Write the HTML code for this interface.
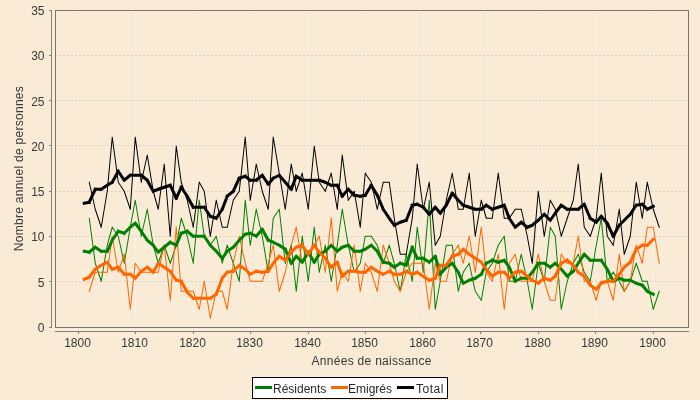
<!DOCTYPE html>
<html><head><meta charset="utf-8"><style>html,body{margin:0;padding:0;background:#faebd7;}svg{display:block;will-change:transform}</style></head>
<body><svg width="700" height="400" viewBox="0 0 700 400">
<style>.t{font-family:"Liberation Sans",sans-serif;font-size:12px;fill:#383838} .l{font-family:"Liberation Sans",sans-serif;font-size:12px;fill:#2a2a2a}</style>
<rect width="700" height="400" fill="#faebd7"/>
<line x1="78.5" y1="10" x2="78.5" y2="327" stroke="#ffffff" stroke-opacity="0.55" stroke-width="1" stroke-dasharray="2,2"/><line x1="135.5" y1="10" x2="135.5" y2="327" stroke="#ffffff" stroke-opacity="0.55" stroke-width="1" stroke-dasharray="2,2"/><line x1="193.5" y1="10" x2="193.5" y2="327" stroke="#ffffff" stroke-opacity="0.55" stroke-width="1" stroke-dasharray="2,2"/><line x1="250.5" y1="10" x2="250.5" y2="327" stroke="#ffffff" stroke-opacity="0.55" stroke-width="1" stroke-dasharray="2,2"/><line x1="308.5" y1="10" x2="308.5" y2="327" stroke="#ffffff" stroke-opacity="0.55" stroke-width="1" stroke-dasharray="2,2"/><line x1="365.5" y1="10" x2="365.5" y2="327" stroke="#ffffff" stroke-opacity="0.55" stroke-width="1" stroke-dasharray="2,2"/><line x1="423.5" y1="10" x2="423.5" y2="327" stroke="#ffffff" stroke-opacity="0.55" stroke-width="1" stroke-dasharray="2,2"/><line x1="480.5" y1="10" x2="480.5" y2="327" stroke="#ffffff" stroke-opacity="0.55" stroke-width="1" stroke-dasharray="2,2"/><line x1="538.5" y1="10" x2="538.5" y2="327" stroke="#ffffff" stroke-opacity="0.55" stroke-width="1" stroke-dasharray="2,2"/><line x1="595.5" y1="10" x2="595.5" y2="327" stroke="#ffffff" stroke-opacity="0.55" stroke-width="1" stroke-dasharray="2,2"/><line x1="653.5" y1="10" x2="653.5" y2="327" stroke="#ffffff" stroke-opacity="0.55" stroke-width="1" stroke-dasharray="2,2"/><line x1="55" y1="281.5" x2="688" y2="281.5" stroke="#d8d2c8" stroke-width="1" stroke-dasharray="2,2"/><line x1="55" y1="236.5" x2="688" y2="236.5" stroke="#d8d2c8" stroke-width="1" stroke-dasharray="2,2"/><line x1="55" y1="191.5" x2="688" y2="191.5" stroke="#d8d2c8" stroke-width="1" stroke-dasharray="2,2"/><line x1="55" y1="145.5" x2="688" y2="145.5" stroke="#d8d2c8" stroke-width="1" stroke-dasharray="2,2"/><line x1="55" y1="100.5" x2="688" y2="100.5" stroke="#d8d2c8" stroke-width="1" stroke-dasharray="2,2"/><line x1="55" y1="55.5" x2="688" y2="55.5" stroke="#d8d2c8" stroke-width="1" stroke-dasharray="2,2"/>
<g shape-rendering="auto"><path d="M89.25,218.25L95.25,263.25 M95.25,263.25L101.25,281.25 M101.25,281.25L107.25,245.25 M107.25,245.25L112.25,227.25 M112.25,227.25L118.25,236.25 M118.25,236.25L124.25,263.25 M124.25,263.25L130.25,227.25 M130.25,227.25L135.25,200.25 M135.25,200.25L141.25,236.25 M141.25,236.25L147.25,209.25 M147.25,209.25L153.25,245.25 M153.25,245.25L158.25,263.25 M158.25,263.25L164.25,245.25 M164.25,245.25L170.25,263.25 M170.25,263.25L176.25,245.25 M176.25,245.25L181.25,218.25 M181.25,218.25L187.25,236.25 M187.25,236.25L193.25,263.25 M193.25,263.25L199.25,200.25 M199.25,200.25L204.25,236.25 M204.25,236.25L210.25,245.25 M210.25,245.25L216.25,236.25 M216.25,236.25L222.25,263.25 M222.25,263.25L227.25,245.25 M227.25,245.25L233.25,263.25 M233.25,263.25L239.25,281.25 M239.25,281.25L245.25,200.25 M245.25,200.25L250.25,245.25 M250.25,245.25L256.25,209.25 M256.25,209.25L262.25,236.25 M262.25,236.25L268.25,272.25 M268.25,272.25L273.25,218.25 M273.25,218.25L279.25,209.25 M279.25,209.25L285.25,263.25 M285.25,263.25L291.25,245.25 M291.25,245.25L296.25,291.25 M296.25,291.25L302.25,236.25 M302.25,236.25L308.25,281.25 M308.25,281.25L314.25,227.25 M314.25,227.25L319.25,272.25 M319.25,272.25L325.25,245.25 M325.25,245.25L331.25,281.25 M331.25,281.25L337.25,245.25 M337.25,245.25L342.25,209.25 M342.25,209.25L348.25,245.25 M348.25,245.25L354.25,272.25 M354.25,272.25L360.25,263.25 M360.25,263.25L365.25,236.25 M365.25,236.25L371.25,236.25 M371.25,236.25L377.25,245.25 M377.25,245.25L383.25,263.25 M383.25,263.25L389.25,245.25 M389.25,245.25L394.25,263.25 M394.25,263.25L400.25,291.25 M400.25,291.25L406.25,254.25 M406.25,254.25L412.25,281.25 M412.25,281.25L417.25,227.25 M417.25,227.25L423.25,272.25 M423.25,272.25L429.25,200.25 M429.25,200.25L435.25,309.25 M435.25,309.25L440.25,281.25 M440.25,281.25L446.25,245.25 M446.25,245.25L452.25,245.25 M452.25,245.25L458.25,291.25 M458.25,291.25L463.25,272.25 M463.25,272.25L469.25,263.25 M469.25,263.25L475.25,291.25 M475.25,291.25L481.25,300.25 M481.25,300.25L486.25,272.25 M486.25,272.25L492.25,263.25 M492.25,263.25L498.25,245.25 M498.25,245.25L504.25,236.25 M504.25,236.25L509.25,281.25 M509.25,281.25L515.25,281.25 M515.25,281.25L521.25,254.25 M521.25,254.25L527.25,281.25 M527.25,281.25L532.25,309.25 M532.25,309.25L538.25,263.25 M538.25,263.25L544.25,281.25 M544.25,281.25L550.25,227.25 M550.25,227.25L555.25,236.25 M555.25,236.25L561.25,309.25 M561.25,309.25L567.25,281.25 M567.25,281.25L573.25,263.25 M573.25,263.25L578.25,254.25 M578.25,254.25L584.25,272.25 M584.25,272.25L590.25,281.25 M590.25,281.25L596.25,245.25 M596.25,245.25L601.25,218.25 M601.25,218.25L607.25,281.25 M607.25,281.25L613.25,272.25 M613.25,272.25L619.25,281.25 M619.25,281.25L624.25,291.25 M624.25,291.25L630.25,281.25 M630.25,281.25L636.25,263.25 M636.25,263.25L642.25,281.25 M642.25,281.25L647.25,281.25 M647.25,281.25L653.25,309.25 M653.25,309.25L659.25,291.25" fill="none" stroke="#008000" stroke-width="1.01" stroke-linecap="square"/><path d="M89.25,291.25L95.25,272.25 M95.25,272.25L101.25,272.25 M101.25,272.25L107.25,272.25 M107.25,272.25L112.25,236.25 M112.25,236.25L118.25,272.25 M118.25,272.25L124.25,254.25 M124.25,254.25L130.25,309.25 M130.25,309.25L135.25,263.25 M135.25,263.25L141.25,272.25 M141.25,272.25L147.25,272.25 M147.25,272.25L153.25,272.25 M153.25,272.25L158.25,272.25 M158.25,272.25L164.25,245.25 M164.25,245.25L170.25,300.25 M170.25,300.25L176.25,227.25 M176.25,227.25L181.25,291.25 M181.25,291.25L187.25,291.25 M187.25,291.25L193.25,291.25 M193.25,291.25L199.25,309.25 M199.25,309.25L204.25,281.25 M204.25,281.25L210.25,318.25 M210.25,318.25L216.25,291.25 M216.25,291.25L222.25,291.25 M222.25,291.25L227.25,309.25 M227.25,309.25L233.25,263.25 M233.25,263.25L239.25,236.25 M239.25,236.25L245.25,263.25 M245.25,263.25L250.25,281.25 M250.25,281.25L256.25,281.25 M256.25,281.25L262.25,281.25 M262.25,281.25L268.25,263.25 M268.25,263.25L273.25,245.25 M273.25,245.25L279.25,291.25 M279.25,291.25L285.25,272.25 M285.25,272.25L291.25,245.25 M291.25,245.25L296.25,227.25 M296.25,227.25L302.25,263.25 M302.25,263.25L308.25,254.25 M308.25,254.25L314.25,245.25 M314.25,245.25L319.25,236.25 M319.25,236.25L325.25,272.25 M325.25,272.25L331.25,218.25 M331.25,218.25L337.25,291.25 M337.25,291.25L342.25,272.25 M342.25,272.25L348.25,281.25 M348.25,281.25L354.25,245.25 M354.25,245.25L360.25,291.25 M360.25,291.25L365.25,263.25 M365.25,263.25L371.25,272.25 M371.25,272.25L377.25,291.25 M377.25,291.25L383.25,245.25 M383.25,245.25L389.25,263.25 M389.25,263.25L394.25,281.25 M394.25,281.25L400.25,291.25 M400.25,291.25L406.25,272.25 M406.25,272.25L412.25,263.25 M412.25,263.25L417.25,263.25 M417.25,263.25L423.25,263.25 M423.25,263.25L429.25,309.25 M429.25,309.25L435.25,263.25 M435.25,263.25L440.25,281.25 M440.25,281.25L446.25,281.25 M446.25,281.25L452.25,254.25 M452.25,254.25L458.25,245.25 M458.25,245.25L463.25,263.25 M463.25,263.25L469.25,236.25 M469.25,236.25L475.25,272.25 M475.25,272.25L481.25,227.25 M481.25,227.25L486.25,272.25 M486.25,272.25L492.25,281.25 M492.25,281.25L498.25,254.25 M498.25,254.25L504.25,309.25 M504.25,309.25L509.25,263.25 M509.25,263.25L515.25,254.25 M515.25,254.25L521.25,281.25 M521.25,281.25L527.25,281.25 M527.25,281.25L532.25,281.25 M532.25,281.25L538.25,254.25 M538.25,254.25L544.25,281.25 M544.25,281.25L550.25,300.25 M550.25,300.25L555.25,300.25 M555.25,300.25L561.25,254.25 M561.25,254.25L567.25,263.25 M567.25,263.25L573.25,263.25 M573.25,263.25L578.25,236.25 M578.25,236.25L584.25,281.25 M584.25,281.25L590.25,281.25 M590.25,281.25L596.25,300.25 M596.25,300.25L601.25,281.25 M601.25,281.25L607.25,281.25 M607.25,281.25L613.25,300.25 M613.25,300.25L619.25,254.25 M619.25,254.25L624.25,291.25 M624.25,291.25L630.25,281.25 M630.25,281.25L636.25,245.25 M636.25,245.25L642.25,263.25 M642.25,263.25L647.25,227.25 M647.25,227.25L653.25,227.25 M653.25,227.25L659.25,263.25" fill="none" stroke="#ff6600" stroke-width="1.01" stroke-linecap="square"/><path d="M89.25,182.25L95.25,209.25 M95.25,209.25L101.25,227.25 M101.25,227.25L107.25,191.25 M107.25,191.25L112.25,137.25 M112.25,137.25L118.25,182.25 M118.25,182.25L124.25,191.25 M124.25,191.25L130.25,209.25 M130.25,209.25L135.25,137.25 M135.25,137.25L141.25,182.25 M141.25,182.25L147.25,155.25 M147.25,155.25L153.25,191.25 M153.25,191.25L158.25,209.25 M158.25,209.25L164.25,164.25 M164.25,164.25L170.25,236.25 M170.25,236.25L176.25,146.25 M176.25,146.25L181.25,182.25 M181.25,182.25L187.25,200.25 M187.25,200.25L193.25,227.25 M193.25,227.25L199.25,182.25 M199.25,182.25L204.25,191.25 M204.25,191.25L210.25,236.25 M210.25,236.25L216.25,200.25 M216.25,200.25L222.25,227.25 M222.25,227.25L227.25,227.25 M227.25,227.25L233.25,200.25 M233.25,200.25L239.25,191.25 M239.25,191.25L245.25,137.25 M245.25,137.25L250.25,200.25 M250.25,200.25L256.25,164.25 M256.25,164.25L262.25,191.25 M262.25,191.25L268.25,209.25 M268.25,209.25L273.25,137.25 M273.25,137.25L279.25,173.25 M279.25,173.25L285.25,209.25 M285.25,209.25L291.25,164.25 M291.25,164.25L296.25,191.25 M296.25,191.25L302.25,173.25 M302.25,173.25L308.25,209.25 M308.25,209.25L314.25,146.25 M314.25,146.25L319.25,182.25 M319.25,182.25L325.25,191.25 M325.25,191.25L331.25,173.25 M331.25,173.25L337.25,209.25 M337.25,209.25L342.25,155.25 M342.25,155.25L348.25,200.25 M348.25,200.25L354.25,191.25 M354.25,191.25L360.25,227.25 M360.25,227.25L365.25,173.25 M365.25,173.25L371.25,182.25 M371.25,182.25L377.25,209.25 M377.25,209.25L383.25,182.25 M383.25,182.25L389.25,182.25 M389.25,182.25L394.25,218.25 M394.25,218.25L400.25,254.25 M400.25,254.25L406.25,254.25 M406.25,254.25L412.25,218.25 M412.25,218.25L417.25,164.25 M417.25,164.25L423.25,209.25 M423.25,209.25L429.25,182.25 M429.25,182.25L435.25,245.25 M435.25,245.25L440.25,236.25 M440.25,236.25L446.25,200.25 M446.25,200.25L452.25,173.25 M452.25,173.25L458.25,209.25 M458.25,209.25L463.25,209.25 M463.25,209.25L469.25,173.25 M469.25,173.25L475.25,236.25 M475.25,236.25L481.25,200.25 M481.25,200.25L486.25,218.25 M486.25,218.25L492.25,218.25 M492.25,218.25L498.25,173.25 M498.25,173.25L504.25,218.25 M504.25,218.25L509.25,218.25 M509.25,218.25L515.25,209.25 M515.25,209.25L521.25,209.25 M521.25,209.25L527.25,236.25 M527.25,236.25L532.25,263.25 M532.25,263.25L538.25,191.25 M538.25,191.25L544.25,236.25 M544.25,236.25L550.25,200.25 M550.25,200.25L555.25,209.25 M555.25,209.25L561.25,236.25 M561.25,236.25L567.25,218.25 M567.25,218.25L573.25,200.25 M573.25,200.25L578.25,164.25 M578.25,164.25L584.25,227.25 M584.25,227.25L590.25,236.25 M590.25,236.25L596.25,218.25 M596.25,218.25L601.25,173.25 M601.25,173.25L607.25,236.25 M607.25,236.25L613.25,245.25 M613.25,245.25L619.25,209.25 M619.25,209.25L624.25,254.25 M624.25,254.25L630.25,236.25 M630.25,236.25L636.25,182.25 M636.25,182.25L642.25,218.25 M642.25,218.25L647.25,182.25 M647.25,182.25L653.25,209.25 M653.25,209.25L659.25,227.25" fill="none" stroke="#000000" stroke-width="1.01" stroke-linecap="square"/><path d="M84.25,251.25L89.25,252.25 M89.25,252.25L95.25,247.25 M95.25,247.25L101.25,251.25 M101.25,251.25L107.25,251.25 M107.25,251.25L112.25,240.25 M112.25,240.25L118.25,231.25 M118.25,231.25L124.25,233.25 M124.25,233.25L130.25,227.25 M130.25,227.25L135.25,223.25 M135.25,223.25L141.25,231.25 M141.25,231.25L147.25,240.25 M147.25,240.25L153.25,245.25 M153.25,245.25L158.25,252.25 M158.25,252.25L164.25,247.25 M164.25,247.25L170.25,242.25 M170.25,242.25L176.25,245.25 M176.25,245.25L181.25,233.25 M181.25,233.25L187.25,231.25 M187.25,231.25L193.25,236.25 M193.25,236.25L199.25,236.25 M199.25,236.25L204.25,236.25 M204.25,236.25L210.25,245.25 M210.25,245.25L216.25,251.25 M216.25,251.25L222.25,258.25 M222.25,258.25L227.25,251.25 M227.25,251.25L233.25,247.25 M233.25,247.25L239.25,240.25 M239.25,240.25L245.25,234.25 M245.25,234.25L250.25,233.25 M250.25,233.25L256.25,236.25 M256.25,236.25L262.25,229.25 M262.25,229.25L268.25,240.25 M268.25,240.25L273.25,242.25 M273.25,242.25L279.25,245.25 M279.25,245.25L285.25,249.25 M285.25,249.25L291.25,263.25 M291.25,263.25L296.25,256.25 M296.25,256.25L302.25,262.25 M302.25,262.25L308.25,252.25 M308.25,252.25L314.25,262.25 M314.25,262.25L319.25,254.25 M319.25,254.25L325.25,251.25 M325.25,251.25L331.25,245.25 M331.25,245.25L337.25,251.25 M337.25,251.25L342.25,247.25 M342.25,247.25L348.25,245.25 M348.25,245.25L354.25,251.25 M354.25,251.25L360.25,251.25 M360.25,251.25L365.25,249.25 M365.25,249.25L371.25,245.25 M371.25,245.25L377.25,251.25 M377.25,251.25L383.25,262.25 M383.25,262.25L389.25,263.25 M389.25,263.25L394.25,267.25 M394.25,267.25L400.25,263.25 M400.25,263.25L406.25,265.25 M406.25,265.25L412.25,247.25 M412.25,247.25L417.25,258.25 M417.25,258.25L423.25,258.25 M423.25,258.25L429.25,262.25 M429.25,262.25L435.25,256.25 M435.25,256.25L440.25,274.25 M440.25,274.25L446.25,267.25 M446.25,267.25L452.25,263.25 M452.25,263.25L458.25,272.25 M458.25,272.25L463.25,283.25 M463.25,283.25L469.25,280.25 M469.25,280.25L475.25,278.25 M475.25,278.25L481.25,274.25 M481.25,274.25L486.25,263.25 M486.25,263.25L492.25,260.25 M492.25,260.25L498.25,262.25 M498.25,262.25L504.25,260.25 M504.25,260.25L509.25,267.25 M509.25,267.25L515.25,281.25 M515.25,281.25L521.25,278.25 M521.25,278.25L527.25,278.25 M527.25,278.25L532.25,272.25 M532.25,272.25L538.25,263.25 M538.25,263.25L544.25,263.25 M544.25,263.25L550.25,267.25 M550.25,267.25L555.25,263.25 M555.25,263.25L561.25,269.25 M561.25,269.25L567.25,276.25 M567.25,276.25L573.25,271.25 M573.25,271.25L578.25,263.25 M578.25,263.25L584.25,254.25 M584.25,254.25L590.25,260.25 M590.25,260.25L596.25,260.25 M596.25,260.25L601.25,260.25 M601.25,260.25L607.25,269.25 M607.25,269.25L613.25,281.25 M613.25,281.25L619.25,278.25 M619.25,278.25L624.25,280.25 M624.25,280.25L630.25,280.25 M630.25,280.25L636.25,283.25 M636.25,283.25L642.25,285.25 M642.25,285.25L647.25,291.25 M647.25,291.25L653.25,294.25" fill="none" stroke="#008000" stroke-width="3" stroke-linecap="square"/><path d="M84.25,279.25L89.25,277.25 M89.25,277.25L95.25,269.25 M95.25,269.25L101.25,265.25 M101.25,265.25L107.25,262.25 M107.25,262.25L112.25,269.25 M112.25,269.25L118.25,267.25 M118.25,267.25L124.25,274.25 M124.25,274.25L130.25,274.25 M130.25,274.25L135.25,278.25 M135.25,278.25L141.25,271.25 M141.25,271.25L147.25,267.25 M147.25,267.25L153.25,272.25 M153.25,272.25L158.25,263.25 M158.25,263.25L164.25,267.25 M164.25,267.25L170.25,271.25 M170.25,271.25L176.25,280.25 M176.25,280.25L181.25,281.25 M181.25,281.25L187.25,292.25 M187.25,292.25L193.25,298.25 M193.25,298.25L199.25,298.25 M199.25,298.25L204.25,298.25 M204.25,298.25L210.25,298.25 M210.25,298.25L216.25,294.25 M216.25,294.25L222.25,278.25 M222.25,278.25L227.25,272.25 M227.25,272.25L233.25,271.25 M233.25,271.25L239.25,265.25 M239.25,265.25L245.25,269.25 M245.25,269.25L250.25,274.25 M250.25,274.25L256.25,271.25 M256.25,271.25L262.25,272.25 M262.25,272.25L268.25,271.25 M268.25,271.25L273.25,263.25 M273.25,263.25L279.25,256.25 M279.25,256.25L285.25,260.25 M285.25,260.25L291.25,252.25 M291.25,252.25L296.25,247.25 M296.25,247.25L302.25,245.25 M302.25,245.25L308.25,254.25 M308.25,254.25L314.25,245.25 M314.25,245.25L319.25,252.25 M319.25,252.25L325.25,258.25 M325.25,258.25L331.25,267.25 M331.25,267.25L337.25,262.25 M337.25,262.25L342.25,276.25 M342.25,276.25L348.25,271.25 M348.25,271.25L354.25,271.25 M354.25,271.25L360.25,272.25 M360.25,272.25L365.25,272.25 M365.25,272.25L371.25,267.25 M371.25,267.25L377.25,271.25 M377.25,271.25L383.25,274.25 M383.25,274.25L389.25,271.25 M389.25,271.25L394.25,274.25 M394.25,274.25L400.25,274.25 M400.25,274.25L406.25,271.25 M406.25,271.25L412.25,274.25 M412.25,274.25L417.25,272.25 M417.25,272.25L423.25,276.25 M423.25,276.25L429.25,280.25 M429.25,280.25L435.25,278.25 M435.25,278.25L440.25,265.25 M440.25,265.25L446.25,265.25 M446.25,265.25L452.25,256.25 M452.25,256.25L458.25,254.25 M458.25,254.25L463.25,249.25 M463.25,249.25L469.25,254.25 M469.25,254.25L475.25,258.25 M475.25,258.25L481.25,262.25 M481.25,262.25L486.25,269.25 M486.25,269.25L492.25,276.25 M492.25,276.25L498.25,272.25 M498.25,272.25L504.25,272.25 M504.25,272.25L509.25,278.25 M509.25,278.25L515.25,272.25 M515.25,272.25L521.25,271.25 M521.25,271.25L527.25,276.25 M527.25,276.25L532.25,280.25 M532.25,280.25L538.25,283.25 M538.25,283.25L544.25,278.25 M544.25,278.25L550.25,280.25 M550.25,280.25L555.25,276.25 M555.25,276.25L561.25,263.25 M561.25,263.25L567.25,260.25 M567.25,260.25L573.25,265.25 M573.25,265.25L578.25,272.25 M578.25,272.25L584.25,276.25 M584.25,276.25L590.25,285.25 M590.25,285.25L596.25,289.25 M596.25,289.25L601.25,283.25 M601.25,283.25L607.25,281.25 M607.25,281.25L613.25,281.25 M613.25,281.25L619.25,274.25 M619.25,274.25L624.25,267.25 M624.25,267.25L630.25,262.25 M630.25,262.25L636.25,249.25 M636.25,249.25L642.25,245.25 M642.25,245.25L647.25,245.25 M647.25,245.25L653.25,239.25" fill="none" stroke="#ff6600" stroke-width="3" stroke-linecap="square"/><path d="M84.25,203.25L89.25,202.25 M89.25,202.25L95.25,189.25 M95.25,189.25L101.25,189.25 M101.25,189.25L107.25,185.25 M107.25,185.25L112.25,182.25 M112.25,182.25L118.25,171.25 M118.25,171.25L124.25,180.25 M124.25,180.25L130.25,175.25 M130.25,175.25L135.25,175.25 M135.25,175.25L141.25,175.25 M141.25,175.25L147.25,180.25 M147.25,180.25L153.25,191.25 M153.25,191.25L158.25,189.25 M158.25,189.25L164.25,187.25 M164.25,187.25L170.25,185.25 M170.25,185.25L176.25,198.25 M176.25,198.25L181.25,187.25 M181.25,187.25L187.25,196.25 M187.25,196.25L193.25,207.25 M193.25,207.25L199.25,207.25 M199.25,207.25L204.25,207.25 M204.25,207.25L210.25,216.25 M210.25,216.25L216.25,218.25 M216.25,218.25L222.25,209.25 M222.25,209.25L227.25,196.25 M227.25,196.25L233.25,191.25 M233.25,191.25L239.25,178.25 M239.25,178.25L245.25,176.25 M245.25,176.25L250.25,180.25 M250.25,180.25L256.25,180.25 M256.25,180.25L262.25,175.25 M262.25,175.25L268.25,184.25 M268.25,184.25L273.25,178.25 M273.25,178.25L279.25,175.25 M279.25,175.25L285.25,182.25 M285.25,182.25L291.25,189.25 M291.25,189.25L296.25,176.25 M296.25,176.25L302.25,180.25 M302.25,180.25L308.25,180.25 M308.25,180.25L314.25,180.25 M314.25,180.25L319.25,180.25 M319.25,180.25L325.25,182.25 M325.25,182.25L331.25,185.25 M331.25,185.25L337.25,185.25 M337.25,185.25L342.25,196.25 M342.25,196.25L348.25,189.25 M348.25,189.25L354.25,195.25 M354.25,195.25L360.25,196.25 M360.25,196.25L365.25,195.25 M365.25,195.25L371.25,185.25 M371.25,185.25L377.25,195.25 M377.25,195.25L383.25,209.25 M383.25,209.25L389.25,218.25 M389.25,218.25L394.25,225.25 M394.25,225.25L400.25,222.25 M400.25,222.25L406.25,220.25 M406.25,220.25L412.25,205.25 M412.25,205.25L417.25,204.25 M417.25,204.25L423.25,207.25 M423.25,207.25L429.25,214.25 M429.25,214.25L435.25,207.25 M435.25,207.25L440.25,213.25 M440.25,213.25L446.25,205.25 M446.25,205.25L452.25,193.25 M452.25,193.25L458.25,200.25 M458.25,200.25L463.25,205.25 M463.25,205.25L469.25,207.25 M469.25,207.25L475.25,209.25 M475.25,209.25L481.25,209.25 M481.25,209.25L486.25,205.25 M486.25,205.25L492.25,209.25 M492.25,209.25L498.25,207.25 M498.25,207.25L504.25,205.25 M504.25,205.25L509.25,218.25 M509.25,218.25L515.25,227.25 M515.25,227.25L521.25,222.25 M521.25,222.25L527.25,227.25 M527.25,227.25L532.25,225.25 M532.25,225.25L538.25,220.25 M538.25,220.25L544.25,214.25 M544.25,214.25L550.25,220.25 M550.25,220.25L555.25,213.25 M555.25,213.25L561.25,205.25 M561.25,205.25L567.25,209.25 M567.25,209.25L573.25,209.25 M573.25,209.25L578.25,209.25 M578.25,209.25L584.25,204.25 M584.25,204.25L590.25,218.25 M590.25,218.25L596.25,222.25 M596.25,222.25L601.25,216.25 M601.25,216.25L607.25,223.25 M607.25,223.25L613.25,236.25 M613.25,236.25L619.25,225.25 M619.25,225.25L624.25,220.25 M624.25,220.25L630.25,214.25 M630.25,214.25L636.25,205.25 M636.25,205.25L642.25,204.25 M642.25,204.25L647.25,209.25 M647.25,209.25L653.25,206.25" fill="none" stroke="#000000" stroke-width="3" stroke-linecap="square"/></g>
<g shape-rendering="crispEdges"><rect x="55.5" y="10.5" width="633" height="317" fill="none" stroke="#7c7369" stroke-width="1"/></g>
<line x1="51.5" y1="10" x2="51.5" y2="328" stroke="#808080" stroke-width="1"/><line x1="49" y1="327.5" x2="52" y2="327.5" stroke="#808080" stroke-width="1"/><text x="44.5" y="332.00" text-anchor="end" class="t">0</text><line x1="49" y1="281.5" x2="52" y2="281.5" stroke="#808080" stroke-width="1"/><text x="44.5" y="286.71" text-anchor="end" class="t">5</text><line x1="49" y1="236.5" x2="52" y2="236.5" stroke="#808080" stroke-width="1"/><text x="44.5" y="241.43" text-anchor="end" class="t">10</text><line x1="49" y1="191.5" x2="52" y2="191.5" stroke="#808080" stroke-width="1"/><text x="44.5" y="196.14" text-anchor="end" class="t">15</text><line x1="49" y1="145.5" x2="52" y2="145.5" stroke="#808080" stroke-width="1"/><text x="44.5" y="150.86" text-anchor="end" class="t">20</text><line x1="49" y1="100.5" x2="52" y2="100.5" stroke="#808080" stroke-width="1"/><text x="44.5" y="105.57" text-anchor="end" class="t">25</text><line x1="49" y1="55.5" x2="52" y2="55.5" stroke="#808080" stroke-width="1"/><text x="44.5" y="60.29" text-anchor="end" class="t">30</text><line x1="49" y1="10.5" x2="52" y2="10.5" stroke="#808080" stroke-width="1"/><text x="44.5" y="15.00" text-anchor="end" class="t">35</text><line x1="55" y1="331.5" x2="689" y2="331.5" stroke="#808080" stroke-width="1"/><line x1="78.5" y1="331" x2="78.5" y2="334" stroke="#808080" stroke-width="1"/><text x="77.5" y="347" text-anchor="middle" class="t">1800</text><line x1="135.5" y1="331" x2="135.5" y2="334" stroke="#808080" stroke-width="1"/><text x="134.5" y="347" text-anchor="middle" class="t">1810</text><line x1="193.5" y1="331" x2="193.5" y2="334" stroke="#808080" stroke-width="1"/><text x="192.5" y="347" text-anchor="middle" class="t">1820</text><line x1="250.5" y1="331" x2="250.5" y2="334" stroke="#808080" stroke-width="1"/><text x="249.5" y="347" text-anchor="middle" class="t">1830</text><line x1="308.5" y1="331" x2="308.5" y2="334" stroke="#808080" stroke-width="1"/><text x="307.5" y="347" text-anchor="middle" class="t">1840</text><line x1="365.5" y1="331" x2="365.5" y2="334" stroke="#808080" stroke-width="1"/><text x="364.5" y="347" text-anchor="middle" class="t">1850</text><line x1="423.5" y1="331" x2="423.5" y2="334" stroke="#808080" stroke-width="1"/><text x="422.5" y="347" text-anchor="middle" class="t">1860</text><line x1="480.5" y1="331" x2="480.5" y2="334" stroke="#808080" stroke-width="1"/><text x="479.5" y="347" text-anchor="middle" class="t">1870</text><line x1="538.5" y1="331" x2="538.5" y2="334" stroke="#808080" stroke-width="1"/><text x="537.5" y="347" text-anchor="middle" class="t">1880</text><line x1="595.5" y1="331" x2="595.5" y2="334" stroke="#808080" stroke-width="1"/><text x="594.5" y="347" text-anchor="middle" class="t">1890</text><line x1="653.5" y1="331" x2="653.5" y2="334" stroke="#808080" stroke-width="1"/><text x="652.5" y="347" text-anchor="middle" class="t">1900</text><text x="371.5" y="364.5" text-anchor="middle" textLength="120" lengthAdjust="spacing" class="t">Années de naissance</text><text transform="translate(23,168.7) rotate(-90)" text-anchor="middle" textLength="165" lengthAdjust="spacing" class="t">Nombre annuel de personnes</text>
<rect x="252.5" y="377.5" width="195" height="21" fill="#ffffff" stroke="#000" stroke-width="1"/>
<line x1="255" y1="387.5" x2="272" y2="387.5" stroke="#008000" stroke-width="3"/>
<text x="273" y="393" class="l">Résidents</text>
<line x1="331" y1="387.5" x2="348" y2="387.5" stroke="#ff6600" stroke-width="3"/>
<text x="348" y="393" class="l">Emigrés</text>
<line x1="397" y1="387.5" x2="414" y2="387.5" stroke="#000000" stroke-width="3"/>
<text x="416" y="393" textLength="27.5" lengthAdjust="spacing" class="l">Total</text>
</svg></body></html>
